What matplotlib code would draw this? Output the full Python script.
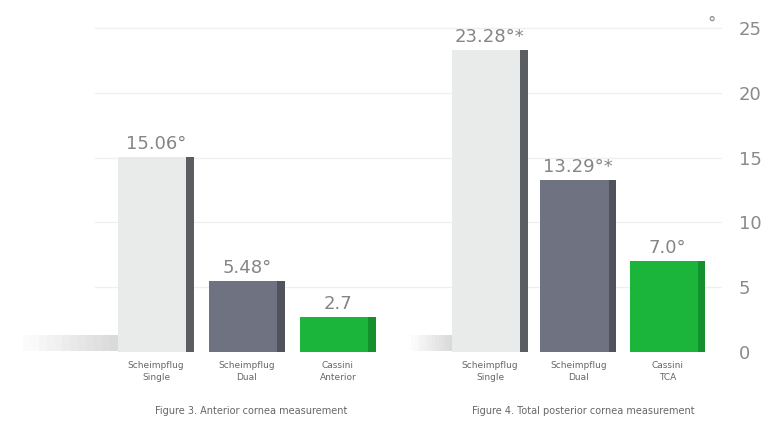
import matplotlib.pyplot as plt
from matplotlib.patches import Rectangle

# data
values_left = [15.06, 5.48, 2.7]
values_right = [23.28, 13.29, 7.0]
labels_left = ["15.06°", "5.48°", "2.7"]
labels_right = ["23.28°*", "13.29°*", "7.0°"]
cats_left = ["Scheimpflug\nSingle", "Scheimpflug\nDual", "Cassini\nAnterior"]
cats_right = ["Scheimpflug\nSingle", "Scheimpflug\nDual", "Cassini\nTCA"]
captions = ["Figure 3. Anterior cornea measurement", "Figure 4. Total posterior cornea measurement"]
yticks = [0, 5, 10, 15, 20, 25]

pos_left = [0, 1, 2]
pos_right = [3.67, 4.64, 5.62]
face = ["#e9ebeb", "#6f7381", "#1cb53b"]
edge = ["#5a5d62", "#50535d", "#14902c"]

fig = plt.figure(figsize=(7.66, 4.3), dpi=100)
ax = fig.add_axes([95 / 766, 78 / 430, (722 - 95) / 766, (352 - 15) / 430])
ax.set_xlim(-0.67, 6.22)
ax.set_ylim(0, 26)

for y in yticks[1:]:
    ax.axhline(y, color="#efefef", lw=0.9, zorder=0)

w = 0.83
for pos, vals, labs, sh in [(pos_left, values_left, labels_left, 1.05),
                            (pos_right, values_right, labels_right, 0.45)]:
    # soft shadow left of the first bar of each group
    n = 12
    for k in range(n):
        x0 = pos[0] - w / 2 - sh * (k + 1) / n
        ax.add_patch(Rectangle((x0, 0.1), sh / n, 1.2, color="#bdbdbd",
                               alpha=0.55 * (1 - k / n), lw=0, zorder=1, clip_on=False))
    for i, (x, v, lab) in enumerate(zip(pos, vals, labs)):
        ax.bar(x, v, width=w, color=face[i], edgecolor="none", zorder=2)
        # darker right edge
        ax.bar(x + w / 2 - 0.04, v, width=0.08, color=edge[i], edgecolor="none", zorder=3)
        ax.text(x, v + 0.3, lab, ha="center", va="bottom", fontsize=13, color="#858585", zorder=4)

for pos, cats in [(pos_left, cats_left), (pos_right, cats_right)]:
    for x, c in zip(pos, cats):
        ax.text(x, -0.7, c, ha="center", va="top", fontsize=6.5, color="#666666", linespacing=1.4)

ax.text(1.05, -4.2, captions[0], ha="center", va="top", fontsize=7, color="#666666")
ax.text(4.7, -4.2, captions[1], ha="center", va="top", fontsize=7, color="#666666")

ax.set_xticks([])
ax.set_yticks(yticks)
ax.yaxis.tick_right()
ax.tick_params(axis="y", length=0, pad=12, labelsize=13, labelcolor="#8a8a8a")
for s in ax.spines.values():
    s.set_visible(False)
ax.text(6.1, 24.6, "°", ha="center", va="bottom", fontsize=12, color="#8a8a8a")

fig.savefig("out.png", dpi=100, facecolor="white")
